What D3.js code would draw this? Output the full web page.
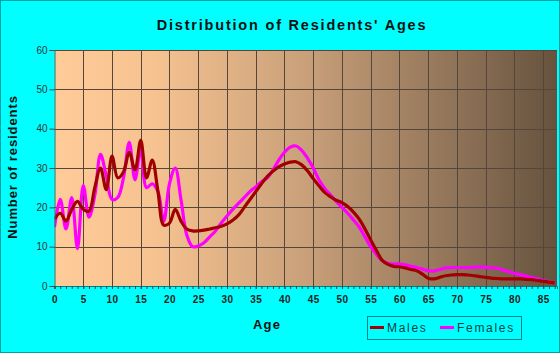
<!DOCTYPE html>
<html>
<head>
<meta charset="utf-8">
<script src="https://cdn.jsdelivr.net/npm/d3@7"></script>
<style>
  body { margin: 0; background: #00ffff; }
  text { font-family: Arial, "Liberation Sans", sans-serif; }
</style>
</head>
<body>
<div id="chart"></div>
<script>
// ages 0..87
var ages = d3.range(0, 88);

var males = [17, 18.5, 16.5, 19.5, 21.5, 19.5, 19, 25, 30, 24.5,
  33, 27.5, 29, 34, 29.5, 37, 27.5, 32, 24, 15.5,
  16, 19.5, 16.5, 14.5, 14, 14, 14.2, 14.5, 14.8, 15.2,
  15.8, 16.7, 18, 20, 22, 24, 26, 27.8, 29.2, 30.3,
  31, 31.5, 31.6, 30.8, 29.3, 27.3, 25.5, 23.8, 22.7, 21.8,
  21.2, 20.2, 18.8, 17, 14.5, 11.7, 9, 6.5, 5.5, 5,
  4.9, 4.6, 4.2, 3.9, 3, 2, 1.8, 2.2, 2.6, 2.8,
  2.9, 2.9, 2.8, 2.6, 2.4, 2.2, 2, 1.9, 1.8, 1.8,
  1.8, 1.8, 1.7, 1.6, 1.4, 1.2, 1, 0.8];

var females = [15, 22, 14.5, 22.5, 9.5, 25.5, 17.5, 23, 33.5, 28,
  22, 22.5, 27.5, 36.5, 27, 35, 25, 26, 24, 16.5,
  26, 30, 22, 13, 10, 10.2, 11, 12.5, 14, 16,
  17.8, 19.5, 21, 22.5, 24, 25.2, 26.5, 27.5, 29.5, 32,
  34, 35.3, 35.6, 34.5, 32.5, 30, 27, 24.8, 23.2, 21.5,
  20, 18.5, 16.8, 15, 12.5, 10, 8, 6.5, 5.8, 5.6,
  5.6, 5.4, 5, 4.7, 4.3, 3.9, 3.8, 4.2, 4.6, 4.7,
  4.7, 4.7, 4.7, 4.8, 4.8, 4.8, 4.7, 4.5, 4.1, 3.6,
  3.2, 2.9, 2.5, 2.1, 1.8, 1.4, 1.1, 0.8];

var xTicks = d3.range(0, 90, 5);
var yTicks = [0, 10, 20, 30, 40, 50, 60];
var seriesNames = ["Males", "Females"];
var seriesColours = ["#a00000", "#ff00ff"];

var width = 560, height = 353;
var plotLeft = 54.5, plotRight = 557, plotTop = 50, plotBottom = 286;

var svg = d3.select("#chart").append("svg")
    .attr("width", width)
    .attr("height", height);

svg.append("rect")
    .attr("x", 0.5).attr("y", 0.5)
    .attr("width", width - 1).attr("height", height - 1)
    .attr("fill", "#00ffff")
    .attr("stroke", "#00a0a0");

var x = d3.scaleLinear().domain([0, 87.4]).range([plotLeft, plotRight]);
var y = d3.scaleLinear().domain([0, 60]).range([plotBottom, plotTop]);

// background gradient
var defs = svg.append("defs");
var grad = defs.append("linearGradient")
    .attr("id", "bg").attr("x1", "0").attr("x2", "1").attr("y1", "0").attr("y2", "0");
grad.append("stop").attr("offset", "0%").attr("stop-color", "#ffcc99");
grad.append("stop").attr("offset", "20%").attr("stop-color", "#f6c290");
grad.append("stop").attr("offset", "50%").attr("stop-color", "#c9a07a");
grad.append("stop").attr("offset", "80%").attr("stop-color", "#8f7358");
grad.append("stop").attr("offset", "100%").attr("stop-color", "#66523e");

defs.append("clipPath").attr("id", "plotclip")
  .append("rect")
    .attr("x", plotLeft).attr("y", plotTop)
    .attr("width", plotRight - plotLeft).attr("height", plotBottom - plotTop);

svg.append("rect")
    .attr("x", plotLeft).attr("y", plotTop)
    .attr("width", plotRight - plotLeft).attr("height", plotBottom - plotTop)
    .attr("fill", "url(#bg)");

// grid
svg.append("g")
  .selectAll("line")
  .data(xTicks.filter(function(d) { return d > 0; }))
  .enter().append("line")
    .attr("x1", function(d) { return Math.round(x(d)) + 0.5; })
    .attr("x2", function(d) { return Math.round(x(d)) + 0.5; })
    .attr("y1", plotTop).attr("y2", plotBottom)
    .attr("stroke", "#54463a");

svg.append("g")
  .selectAll("line")
  .data(yTicks.filter(function(d) { return d > 0; }))
  .enter().append("line")
    .attr("x1", plotLeft).attr("x2", plotRight)
    .attr("y1", function(d) { return Math.round(y(d)) + 0.5; })
    .attr("y2", function(d) { return Math.round(y(d)) + 0.5; })
    .attr("stroke", "#54463a");

// lines
var allSeries = [males, females];
var line = d3.line()
    .x(function(d, i) { return x(ages[i]); })
    .y(function(d) { return y(d); })
    .curve(d3.curveCatmullRom.alpha(0.5));

svg.append("g")
    .attr("clip-path", "url(#plotclip)")
  .selectAll("path")
  .data([1, 0])
  .enter().append("path")
    .attr("d", function(k) { return line(allSeries[k]); })
    .attr("fill", "none")
    .attr("stroke", function(k) { return seriesColours[k]; })
    .attr("stroke-width", 3.2)
    .attr("stroke-linejoin", "round");

// y axis
var yAxis = svg.append("g")
    .attr("transform", "translate(" + plotLeft + ",0)")
    .call(d3.axisLeft(y).tickValues(yTicks).tickSize(5).tickPadding(2));
yAxis.select(".domain").attr("stroke", "#008080");
yAxis.selectAll(".tick line").attr("stroke", "#444");
yAxis.selectAll("text").attr("font-size", 10).attr("fill", "#333")
    .attr("font-family", "Arial, Liberation Sans, sans-serif");

// x axis with minor ticks
var xAxisMinor = svg.append("g")
    .attr("transform", "translate(0," + plotBottom + ")")
    .call(d3.axisBottom(x).tickValues(d3.range(0, 88)).tickSize(3).tickFormat(""));
xAxisMinor.select(".domain").attr("stroke", "#008080");
xAxisMinor.selectAll(".tick line").attr("stroke", "#444");

var xAxis = svg.append("g")
    .attr("transform", "translate(0," + plotBottom + ")")
    .call(d3.axisBottom(x).tickValues(xTicks).tickSize(3).tickPadding(7));
xAxis.select(".domain").remove();
xAxis.selectAll(".tick line").attr("stroke", "#444");
xAxis.selectAll("text").attr("font-size", 10).attr("fill", "#222")
    .attr("font-weight", "bold").style("letter-spacing", "0.5px")
    .attr("font-family", "Arial, Liberation Sans, sans-serif");

// titles
svg.append("text")
    .attr("x", 292).attr("y", 30)
    .attr("text-anchor", "middle")
    .attr("font-size", 14.5).attr("font-weight", "bold")
    .style("letter-spacing", "1.8px")
    .attr("fill", "#111")
    .text("Distribution of Residents' Ages");

svg.append("text")
    .attr("transform", "translate(17," + 167 + ") rotate(-90)")
    .attr("text-anchor", "middle")
    .attr("font-size", 13).attr("font-weight", "bold")
    .style("letter-spacing", "0.9px")
    .attr("fill", "#111")
    .text("Number of residents");

svg.append("text")
    .attr("x", 267).attr("y", 329)
    .attr("text-anchor", "middle")
    .attr("font-size", 13).attr("font-weight", "bold")
    .style("letter-spacing", "1.2px")
    .attr("fill", "#111")
    .text("Age");

// legend
var legend = svg.append("g");
legend.append("rect")
    .attr("x", 367.5).attr("y", 316.5)
    .attr("width", 154).attr("height", 23)
    .attr("fill", "none").attr("stroke", "#008080");

var legendX = [370, 440];
var item = legend.selectAll("g.item")
  .data(seriesNames)
  .enter().append("g").attr("class", "item");
item.append("line")
    .attr("x1", function(d, i) { return legendX[i]; })
    .attr("x2", function(d, i) { return legendX[i] + 14; })
    .attr("y1", 327.5).attr("y2", 327.5)
    .attr("stroke", function(d, i) { return seriesColours[i]; })
    .attr("stroke-width", 3);
item.append("text")
    .attr("x", function(d, i) { return legendX[i] + 17; })
    .attr("y", 332)
    .attr("font-size", 12)
    .style("letter-spacing", "1.7px")
    .attr("fill", "#004444")
    .text(function(d) { return d; });
</script>
</body>
</html>
